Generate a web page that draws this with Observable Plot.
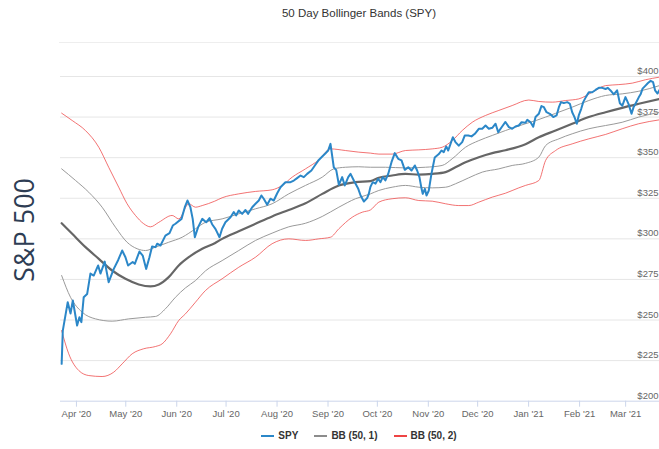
<!DOCTYPE html>
<html>
<head>
<meta charset="utf-8">
<script src="https://cdn.jsdelivr.net/npm/d3@7"></script>
<script src="https://cdn.jsdelivr.net/npm/@observablehq/plot@0.6"></script>
<style>
  html, body { margin: 0; padding: 0; background: #fff; }
  #wrap { position: relative; width: 659px; height: 449px; overflow: hidden; font-family: "Liberation Sans", Arial, sans-serif; }
  #title { position: absolute; left: 209px; width: 300px; top: 6px; text-align: center; font-size: 11.5px; line-height: 14px; color: #333; }
  #topline { position: absolute; left: 59px; top: 42px; width: 600px; height: 1px; background: #eeeeee; }
  #ylab { position: absolute; left: 23px; top: 230px; transform: translate(-50%, -50%) rotate(-90deg); font-family: "Open Sans", sans-serif; font-size: 27px; color: #2e3d54; white-space: nowrap; }
  #chart { position: absolute; left: 0; top: 0; }
  #legend { position: absolute; left: 259px; width: 200px; top: 430px; display: flex; justify-content: center; align-items: center; gap: 16px; font-size: 10px; font-weight: bold; color: #333; }
  #legend .item { display: flex; align-items: center; gap: 4px; white-space: nowrap; }
  #legend .sw { width: 13px; height: 2px; display: inline-block; }
</style>
</head>
<body>
<div id="wrap">
  <div id="chart"></div>
  <div id="topline"></div>
  <div id="title">50 Day Bollinger Bands (SPY)</div>
  <div id="ylab">S&amp;P 500</div>
  <div id="legend"></div>
</div>
<script>
// Day offsets are days since 2020-03-23
const startDate = "2020-03-23";
const endDay = 363.6;

const spyDay = [0,0.7,3.7,5.4,6.8,9.4,10.8,12.0,13.4,15.5,17.5,19.5,22.2,23.6,26.2,28.6,31.7,34.4,36.8,38.8,40.4,43.2,44.5,47.3,49.3,51.4,53.4,55.0,57.1,58.1,60.1,63.1,65.6,67.6,69.2,72.9,74.9,76.5,78.3,79.7,81.0,83.0,85.5,87.9,89.9,91.5,93.6,96.0,97.6,99.6,102.7,104.7,106.1,107.7,109.8,111.8,113.4,115.9,117.9,119.9,121.5,122.9,125.0,127.0,129.0,131.1,133.1,136.1,139.2,141.2,143.2,145.3,147.3,149.3,151.9,154.0,156.4,158.5,160.5,162.1,163.5,165.5,167.0,168.6,170.6,172.2,174.3,175.7,177.7,180.4,181.8,183.8,185.8,186.8,187.8,189.2,190.9,192.5,193.9,195.3,196.9,198.6,200.6,202.6,204.7,206.7,208.7,210.8,212.8,214.8,216.2,217.6,218.9,219.6,220.9,221.9,223.3,224.9,226.9,229.4,231.0,232.4,233.9,235.1,236.5,237.9,239.5,241.5,243.6,245.2,247.3,249.3,251.3,253.7,255.8,257.8,259.8,261.9,263.9,265.5,267.9,269.9,272.0,274.0,276.0,278.0,279.7,282.1,283.2,285.2,286.8,288.2,290.2,291.8,293.3,294.9,296.9,299.0,301.0,302.4,303.7,305.4,307.5,309.1,310.5,311.9,313.3,314.5,316.0,317.2,318.8,320.6,322.7,324.7,326.7,328.8,330.8,332.2,333.8,335.8,337.8,339.5,341.0,342.9,344.8,346.6,347.8,349.0,350.9,352.1,353.3,355.1,356.6,358.2,359.7,360.9,362.4,363.6];
const spyClose = [223,243.5,261,254,262,246.6,251.7,248.7,264,266,278.6,277.4,283.6,278.6,286,273.3,281.5,287,292.8,288.7,283.6,285.7,284.6,292.2,289.7,281.5,288.7,295.3,294.9,297,295.9,302,303.5,308.2,309.3,312.3,319.5,323.6,319.5,312.3,301,307.2,312.3,310.2,312.8,309,306,301,306.2,310.2,313.3,316.5,314.4,317.5,315.4,317.8,315.4,319.5,321.6,323.6,326.7,324.7,321,324.7,323.6,328.1,331.8,334.9,334.9,335.9,337.4,339,338,340,342.1,345.2,348.6,350.7,352.7,354.4,358.5,344.1,342.3,333.3,338,332.9,338,340,335.9,330.8,326.7,323,325.1,327.7,332,334.9,334,337,334.9,338,336,340,347.2,352.8,349.3,348.3,342.5,344.1,342.1,345.2,342.1,338,330.8,327.7,330.8,326.7,329.8,340,350.1,352.2,354.4,353.4,356.9,354.4,358.5,362.6,359.6,357.4,359.6,363.7,363.7,363.1,364.7,367.8,367.8,369.8,367.8,368.4,370.9,365.7,369.2,372,368.8,367.8,369.2,369.8,371.8,371.5,373.3,371.8,369,375,377,381.8,381.1,378,377,375,376,381.1,384.2,383.6,384.2,383.2,378,375,370.9,376,380.1,384.2,387.3,390.3,390.3,391.7,393,393,392.3,393,391.4,389,391.5,383.5,382,387.3,383,377,381,383.2,387,389,392.5,394.4,396,397.3,396.5,391.5,389.5,391.7];

const upper2Day = [0,6.4,14.5,22.6,28.6,34.7,39.8,44.9,49.9,54.0,59.1,67.2,71.2,77.3,81.4,85.5,93.1,97.6,107.7,117.9,128.0,134.1,140.2,148.3,156.4,163.5,172.6,180.7,187.8,192.9,201.0,209.1,217.2,225.4,231.4,237.5,243.6,249.7,257.8,265.9,274.0,284.1,290.2,298.4,306.5,314.5,322.7,330.8,338.9,347.0,355.1,363.6];
const upper2 = [377.4,372.9,366.7,356.4,344.1,331.8,321.6,314.4,309.3,307.4,310.2,314.4,312.3,321.6,319.5,320.5,323.2,325.3,327.7,329.2,330.2,332.9,338,343.1,348.6,355.4,354.4,353.4,352.8,352.2,352.2,354.4,354.8,355.4,356.4,360.5,366.7,371.8,376,379.1,382.1,385.5,384.6,384.2,385.2,386.2,390.3,394.4,395,395.9,398,399.6];

const upper1Day = [0,8.4,16.5,24.6,32.7,39.8,45.9,51.0,57.1,65.1,73.3,81.4,87.5,97.6,107.7,117.9,128.0,138.1,148.3,158.5,165.5,172.6,180.7,187.8,196.9,209.1,221.3,231.4,237.5,245.6,253.7,261.9,269.9,282.1,288.2,300.4,310.5,320.6,330.8,340.9,351.0,363.6];
const upper1 = [343.1,336,328.7,319.5,307.2,297.9,293.9,292.8,294.9,297.9,301,306.2,310.2,312.3,315.4,318.5,321.6,327.7,332.9,338,343.1,344.1,344.4,344.1,344.1,343.7,344.1,345.2,349.3,356.4,360.5,363.7,366.7,370.9,372.8,377.3,381.1,385.2,388.3,389.3,390.9,394.4];

const middleDay = [0,6.4,14.5,22.6,30.7,38.8,46.9,54.0,59.1,65.1,71.2,77.3,85.5,93.1,97.6,107.7,117.9,128.0,138.1,148.3,158.5,168.6,178.7,187.8,192.9,201.0,209.1,217.2,225.4,233.5,239.5,245.6,253.7,261.9,269.9,282.1,290.2,300.4,310.5,320.6,330.8,340.9,351.0,363.6];
const middle = [309.6,303.1,294.9,287.7,280.5,275.4,271.9,270.7,271.9,276.4,283.6,288.7,293.9,297.3,300,304.7,309.3,313.8,317.8,321.9,327.7,332.9,334.9,335.5,337.6,339,340,339.6,340,341.1,344.1,347.2,350.3,352.8,354.6,358.3,362.6,366.7,370.9,375,378,380.7,383.2,386.2];

const lower1Day = [0,5.4,12.5,20.6,30.7,40.8,51.0,57.1,63.1,69.2,75.3,81.4,87.5,97.6,107.7,117.9,128.0,138.1,148.3,158.5,168.6,178.7,187.8,192.9,201.0,209.1,217.2,225.4,233.5,239.5,247.6,255.8,265.9,274.0,282.1,290.2,294.3,302.4,310.5,320.6,330.8,340.9,351.0,363.6];
const lower1 = [277.4,264,254.8,250.7,249.3,250.7,251.7,252.2,256.9,264,269.8,274.3,280.3,286.6,292.8,299,303.5,307.4,309.6,313.8,319.5,324.7,327.7,329.8,331.8,332.9,331.8,331.4,331.8,333.9,337.6,341.1,343.1,345.2,346.5,350.3,357.4,361.6,364.7,367.8,369.8,371.8,375,378];

const lower2Day = [0,4.3,10.4,16.5,24.6,31.7,36.8,42.9,49.9,57.1,61.1,66.2,71.2,75.3,81.4,87.5,97.6,107.7,117.9,128.0,138.1,148.3,156.4,163.5,168.6,176.7,182.8,187.8,192.9,201.0,209.1,217.2,225.4,233.5,241.5,247.6,253.7,261.9,269.9,278.0,282.1,290.2,294.3,300.4,310.5,320.6,330.8,340.9,351.0,363.6];
const lower2 = [243.5,229.2,218.9,215.8,215.2,217.9,223,229.2,232.3,233.7,235.3,241.5,249.7,253.8,261,268.2,275.4,282.5,288.7,297,300,299,300,301,306.2,313.3,316.4,317.8,322.6,324.7,325.3,323.6,323.2,321.6,320.5,320.5,322.6,325.7,328.1,331.4,332.9,335.9,348.2,354.4,358.5,361.6,364.3,367.8,370.9,373.3];

const yTicks = [200,225,250,275,300,325,350,375,400];
const seriesNames = ["SPY", "BB (50, 1)", "BB (50, 2)"];
const seriesColors = ["#2b87c8", "#8c8c8c", "#ee4444"];

// ---- build tables ----
const t0 = new Date(startDate + "T00:00:00Z").getTime();
const toDate = d => new Date(t0 + d * 864e5);
const toRows = (days, vals) => days.map((d, i) => ({date: toDate(d), value: vals[i]}));

const spy = toRows(spyDay, spyClose);
const u2 = toRows(upper2Day, upper2);
const u1 = toRows(upper1Day, upper1);
const mid = toRows(middleDay, middle);
const l1 = toRows(lower1Day, lower1);
const l2 = toRows(lower2Day, lower2);

const xDomain = [toDate(-0.7), toDate(endDay)];
const monthTicks = d3.utcMonth.range(new Date("2020-04-01T00:00:00Z"), new Date("2021-03-02T00:00:00Z"));
const fmt = d3.utcFormat("%b '%y");

const chart = Plot.plot({
  width: 659,
  height: 425,
  marginLeft: 60,
  marginRight: 0,
  marginTop: 35.4,
  marginBottom: 24.3,
  style: {fontFamily: "'Liberation Sans', Arial, sans-serif", fontSize: "9.5px", background: "transparent"},
  x: {type: "utc", domain: xDomain, axis: null},
  y: {domain: [200, 425], axis: null},
  marks: [
    Plot.gridY(yTicks.slice(1), {stroke: "#e6e6e6", strokeOpacity: 1}),
    Plot.ruleY([200], {stroke: "#ccd6eb", strokeWidth: 1}),
    Plot.axisX(monthTicks, {tickSize: 6, tickPadding: 3, tickFormat: fmt, stroke: "#ccd6eb", fill: "#666", fontSize: 9.5}),
    Plot.text(yTicks, {y: d => d, frameAnchor: "right", text: d => `$${d}`, textAnchor: "end", dx: -1, dy: -5.5, fill: "#666", fontSize: 9.5}),
    Plot.line(u2, {x: "date", y: "value", stroke: seriesColors[2], strokeWidth: 1, strokeOpacity: 0.75, curve: "monotone-x"}),
    Plot.line(l2, {x: "date", y: "value", stroke: seriesColors[2], strokeWidth: 1, strokeOpacity: 0.75, curve: "monotone-x"}),
    Plot.line(u1, {x: "date", y: "value", stroke: "#9a9a9a", strokeWidth: 1, curve: "monotone-x"}),
    Plot.line(l1, {x: "date", y: "value", stroke: "#9a9a9a", strokeWidth: 1, curve: "monotone-x"}),
    Plot.line(mid, {x: "date", y: "value", stroke: "#666", strokeWidth: 2.2, curve: "monotone-x"}),
    Plot.line(spy, {x: "date", y: "value", stroke: seriesColors[0], strokeWidth: 2, curve: "linear"})
  ]
});
document.getElementById("chart").appendChild(chart);

const legend = document.getElementById("legend");
seriesNames.forEach((name, i) => {
  const item = document.createElement("div");
  item.className = "item";
  const sw = document.createElement("span");
  sw.className = "sw";
  sw.style.background = seriesColors[i];
  const label = document.createElement("span");
  label.textContent = name;
  item.appendChild(sw);
  item.appendChild(label);
  legend.appendChild(item);
});
</script>
</body>
</html>
